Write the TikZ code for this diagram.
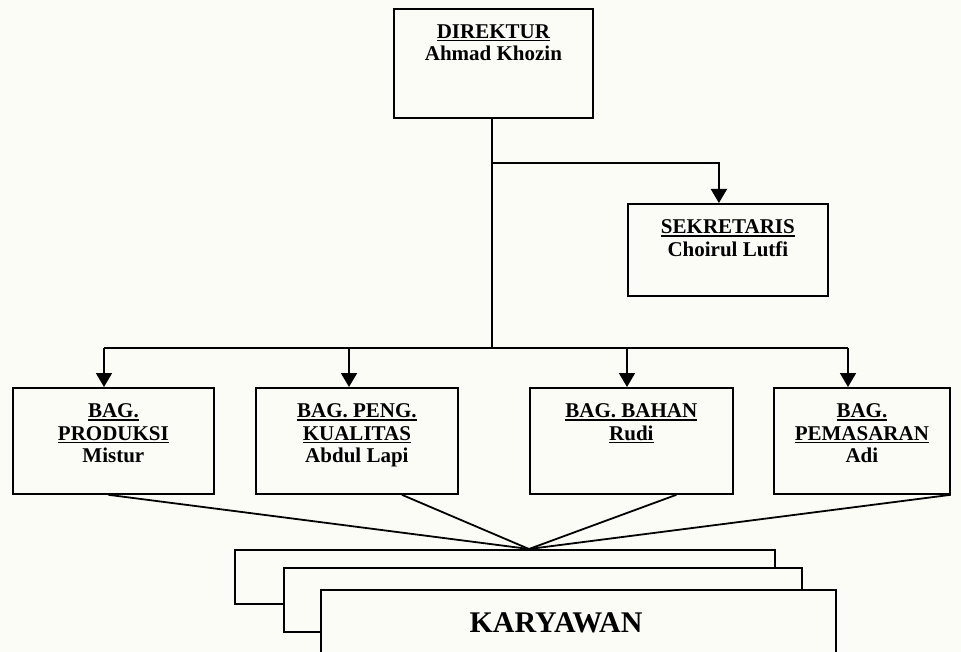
\documentclass[tikz,border=0pt]{standalone}
\usepackage{fontspec}
\setmainfont{Liberation Serif}
\usetikzlibrary{arrows.meta}
\definecolor{bgc}{RGB}{252,252,247}
\newcommand{\myul}[1]{\setbox0\hbox{#1}\rlap{\rule[-3pt]{\wd0}{1.4pt}}\box0}
\begin{document}
\begin{tikzpicture}[x=1pt,y=-1pt,
  orgbox/.style={draw, line width=1.8pt, fill=bgc, inner sep=0pt, anchor=north west},
  orgtext/.style={font=\bfseries\fontsize{21}{22.5}\selectfont, align=center, anchor=north, inner sep=0pt, yshift=-16.5pt},
  conn/.style={line width=1.8pt},
  arr/.style={line width=1.8pt, -{Triangle[length=14pt,width=16pt]}}
]
\useasboundingbox (0,0) rectangle (961,652);
\fill[bgc] (0,0) rectangle (961,652);
\begin{scope}
\clip (0,0) rectangle (961,652);

% top boxes
\node[orgbox, minimum width=199pt, minimum height=109pt] (dir) at (393,8) {};
\node[orgtext] (dirt) at (dir.north) {\myul{DIREKTUR}\\Ahmad Khozin};
\node[orgbox, minimum width=200pt, minimum height=92pt] (sek) at (627,203) {};
\node[orgtext] (sekt) at (sek.north) {\myul{SEKRETARIS}\\Choirul Lutfi};

% department boxes
\node[orgbox, minimum width=201pt, minimum height=106pt] (prod) at (12,387) {};
\node[orgtext] (prodt) at (prod.north) {\myul{BAG.}\\\myul{PRODUKSI}\\Mistur};
\node[orgbox, minimum width=202pt, minimum height=106pt] (peng) at (255,387) {};
\node[orgtext] (pengt) at (peng.north) {\myul{BAG. PENG.}\\\myul{KUALITAS}\\Abdul Lapi};
\node[orgbox, minimum width=203pt, minimum height=106pt] (bahan) at (529,387) {};
\node[orgtext] (bahant) at (bahan.north) {\myul{BAG. BAHAN}\\\myul{Rudi}};
\node[orgbox, minimum width=176pt, minimum height=106pt] (pem) at (773,387) {};
\node[orgtext] (pemt) at (pem.north) {\myul{BAG.}\\\myul{PEMASARAN}\\Adi};

% connectors
\coordinate (j1) at (492,163);
\coordinate (j2) at (492,348);
\coordinate (ta1) at (104,348);
\coordinate (ta2) at (349,348);
\coordinate (ta3) at (627,348);
\coordinate (ta4) at (848,348);
\draw[conn] (j2 |- dir.south) -- (j2);
\draw[arr] (j1) -| ([xshift=-9pt]sek.north);
\draw[conn] (ta1) -- (ta4);
\draw[arr] (ta1) -- (ta1 |- prod.north);
\draw[arr] (ta2) -- (ta2 |- peng.north);
\draw[arr] (ta3) -- (ta3 |- bahan.north);
\draw[arr] (ta4) -- (ta4 |- pem.north);

% karyawan stack
\node[orgbox, minimum width=540pt, minimum height=54pt] (k1) at (234,549) {};
\node[orgbox, minimum width=518pt, minimum height=64pt] (k2) at (283,567) {};
\node[orgbox, minimum width=515pt, minimum height=100pt] (k3) at (320,589) {};
\node[font=\bfseries\fontsize{30}{32}\selectfont, anchor=base, inner sep=0pt] (kt) at (556,632) {KARYAWAN};

\coordinate (cv) at (529,549);
\draw[conn] ([xshift=-5pt]prod.south) -- (cv);
\draw[conn] ([xshift=45pt]peng.south) -- (cv);
\draw[conn] ([xshift=45pt]bahan.south) -- (cv);
\draw[conn] (pem.south east) -- (cv);
\end{scope}
\end{tikzpicture}
\end{document}
